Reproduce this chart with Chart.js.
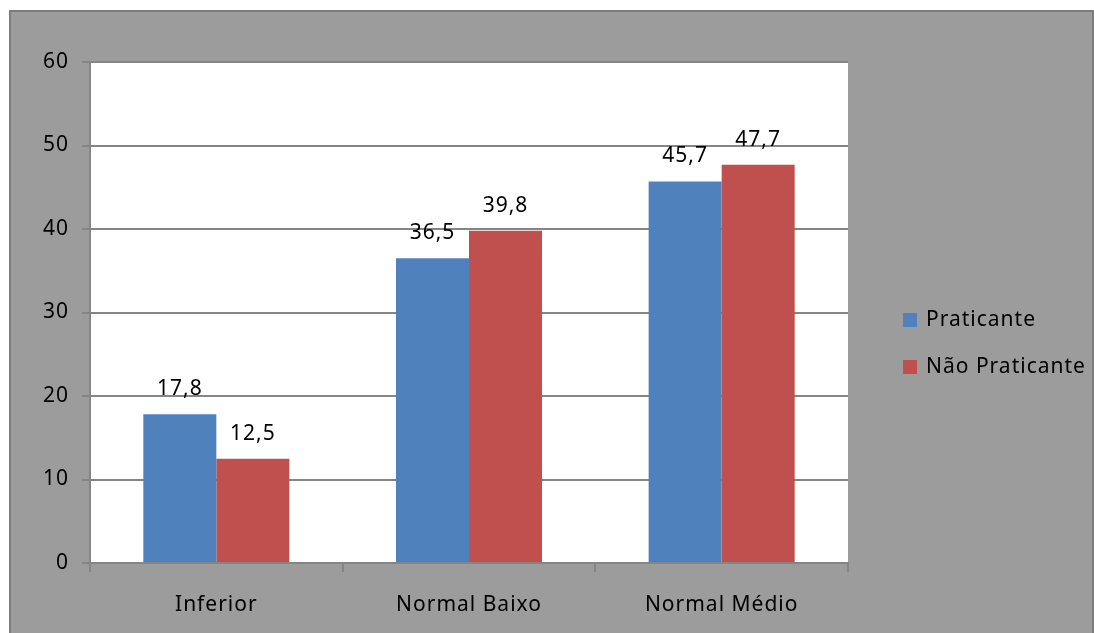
<!DOCTYPE html>
<html>
<head>
<meta charset="utf-8">
<script src="https://cdn.jsdelivr.net/npm/chart.js@4"></script>
<style>
  html, body { margin: 0; padding: 0; background: #ffffff; }
  #wrap { width: 1094px; height: 633px; position: relative; }
</style>
</head>
<body>
<div id="wrap"><canvas id="c" width="1094" height="633"></canvas></div>
<script>
const categories = ['Inferior', 'Normal Baixo', 'Normal Médio'];
const praticante = [17.8, 36.5, 45.7];
const naoPraticante = [12.5, 39.8, 47.7];
const seriesNames = ['Praticante', 'Não Praticante'];
const seriesColors = ['#4f81bd', '#c0504d'];
const yTicks = [0, 10, 20, 30, 40, 50, 60];

const FONT = '"Noto Sans", "Open Sans", sans-serif';
const FONT_SIZE = 21;
const GRID = '#858585';

// Gray frame behind the chart and white plotting area
const framePlugin = {
  id: 'frame',
  beforeInit(chart) { chart.ctx.letterSpacing = '1px'; },
  beforeDraw(chart) {
    const ctx = chart.ctx;
    const a = chart.chartArea;
    ctx.letterSpacing = '1px';
    ctx.save();
    ctx.fillStyle = '#ffffff';
    ctx.fillRect(0, 0, chart.width, chart.height);
    ctx.fillStyle = '#9c9c9c';
    ctx.fillRect(9, 10, chart.width - 9, chart.height - 10);
    ctx.strokeStyle = '#7c7c7c';
    ctx.lineWidth = 2;
    ctx.strokeRect(10, 11, chart.width - 11, chart.height - 10);
    ctx.fillStyle = '#ffffff';
    ctx.fillRect(a.left, a.top, a.right - a.left, a.bottom - a.top);
    ctx.restore();
  }
};

// Value labels above each bar, comma decimal separator
const valueLabels = {
  id: 'valueLabels',
  afterDatasetsDraw(chart) {
    const ctx = chart.ctx;
    ctx.save();
    ctx.font = FONT_SIZE + 'px ' + FONT;
    ctx.fillStyle = '#000000';
    ctx.textAlign = 'center';
    ctx.textBaseline = 'middle';
    chart.data.datasets.forEach((ds, i) => {
      chart.getDatasetMeta(i).data.forEach((bar, j) => {
        const txt = ds.data[j].toFixed(1).replace('.', ',');
        ctx.fillText(txt, bar.x, bar.y - 25);
      });
    });
    ctx.restore();
  }
};

// Legend to the right of the plotting area
const sideLegend = {
  id: 'sideLegend',
  afterDraw(chart) {
    const ctx = chart.ctx;
    ctx.save();
    ctx.font = FONT_SIZE + 'px ' + FONT;
    ctx.textAlign = 'left';
    ctx.textBaseline = 'middle';
    chart.data.datasets.forEach((ds, i) => {
      const cy = 320 + i * 47;
      ctx.fillStyle = ds.backgroundColor;
      ctx.fillRect(903, cy - 7, 14, 14);
      ctx.fillStyle = '#000000';
      ctx.fillText(ds.label, 926, cy);
    });
    ctx.restore();
  }
};

new Chart(document.getElementById('c'), {
  type: 'bar',
  data: {
    labels: categories,
    datasets: [
      { label: seriesNames[0], data: praticante, backgroundColor: seriesColors[0] },
      { label: seriesNames[1], data: naoPraticante, backgroundColor: seriesColors[1] }
    ]
  },
  options: {
    responsive: false,
    animation: false,
    devicePixelRatio: 1,
    layout: { padding: { left: 0, top: 62, right: 246, bottom: 0 } },
    datasets: { bar: { categoryPercentage: 0.578, barPercentage: 1.0, borderWidth: 0 } },
    plugins: { legend: { display: false }, tooltip: { enabled: false } },
    scales: {
      x: {
        afterFit(s) { s.height = 70; },
        grid: { offset: true, drawOnChartArea: false, color: GRID, lineWidth: 2, tickLength: 9 },
        border: { display: true, color: GRID, width: 2 },
        ticks: { color: '#000000', font: { family: FONT, size: FONT_SIZE }, padding: 20 }
      },
      y: {
        min: 0, max: 60,
        afterFit(s) { s.width = 90; },
        afterBuildTicks(s) { s.ticks = yTicks.map(v => ({ value: v })); },
        grid: { color: GRID, lineWidth: 2, tickLength: 8 },
        border: { display: true, color: GRID, width: 2 },
        ticks: { color: '#000000', font: { family: FONT, size: FONT_SIZE }, padding: 13 }
      }
    }
  },
  plugins: [framePlugin, valueLabels, sideLegend]
});
</script>
</body>
</html>
